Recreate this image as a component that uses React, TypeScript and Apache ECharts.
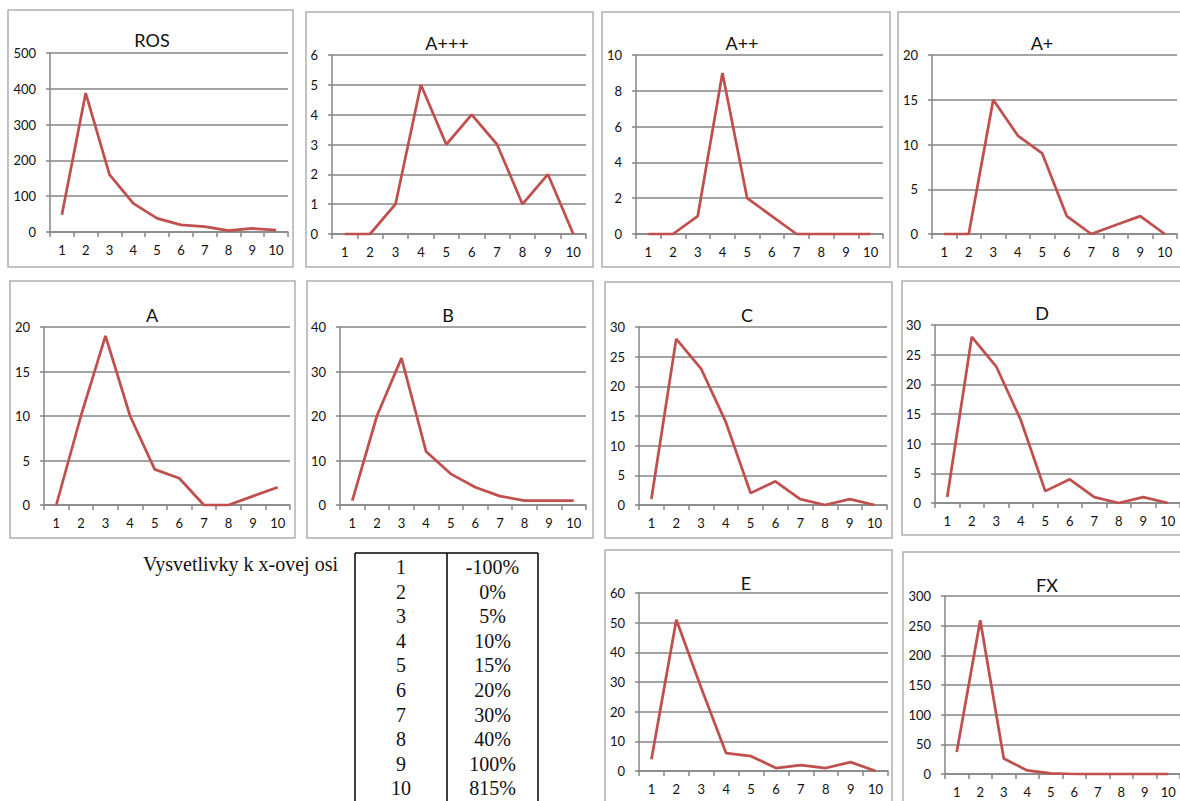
import React, { useEffect, useRef } from "react";
import * as echarts from "echarts";

const categories = ["1", "2", "3", "4", "5", "6", "7", "8", "9", "10"];

const panelNames = ["ROS", "A+++", "A++", "A+", "A", "B", "C", "D", "E", "FX"];
const rosValues = [48, 388, 160, 80, 38, 20, 15, 4, 10, 5];
const aaaValues = [0, 0, 1, 5, 3, 4, 3, 1, 2, 0];
const aaValues = [0, 0, 1, 9, 2, 1, 0, 0, 0, 0];
const apValues = [0, 0, 15, 11, 9, 2, 0, 1, 2, 0];
const aValues = [0, 10, 19, 10, 4, 3, 0, 0, 1, 2];
const bValues = [1, 20, 33, 12, 7, 4, 2, 1, 1, 1];
const cValues = [1, 28, 23, 14, 2, 4, 1, 0, 1, 0];
const dValues = [1, 28, 23, 14, 2, 4, 1, 0, 1, 0];
const eValues = [4, 51, 28, 6, 5, 1, 2, 1, 3, 0];
const fxValues = [37, 259, 26, 6, 1, 0, 0, 0, 0, 0];

const yMax = [500, 6, 10, 20, 20, 40, 30, 30, 60, 300];
const yStep = [100, 1, 2, 5, 5, 10, 5, 5, 10, 50];

const legendTitle = "Vysvetlivky k x-ovej osi";
const legendKeys = categories;
const legendPct = ["-100%", "0%", "5%", "10%", "15%", "20%", "30%", "40%", "100%", "815%"];

const allValues = [rosValues, aaaValues, aaValues, apValues, aValues, bValues, cValues, dValues, eValues, fxValues];

// layout: box [x,y,w,h], grid [left, top, width, height], title center [x,y]
const layout = [
  { box: [8, 10, 285, 257], grid: [50, 53, 238, 179], title: [152, 40] },
  { box: [306, 12, 287, 255], grid: [332, 55, 254, 179], title: [447, 43] },
  { box: [602, 12, 288, 255], grid: [636, 55, 247, 179], title: [742, 43] },
  { box: [898, 12, 300, 255], grid: [932, 55, 245, 179], title: [1042, 43] },
  { box: [10, 281, 285, 257], grid: [44, 327, 246, 178], title: [152, 315] },
  { box: [307, 281, 286, 257], grid: [340, 327, 246, 178], title: [448, 315] },
  { box: [605, 282, 287, 256], grid: [639, 327, 248, 178], title: [747, 315] },
  { box: [902, 281, 300, 254], grid: [935, 325, 245, 178], title: [1042, 313] },
  { box: [605, 550, 287, 260], grid: [639, 593, 249, 178], title: [746, 583] },
  { box: [903, 552, 300, 260], grid: [945, 596, 240, 178], title: [1047, 585] },
];

const GRID_COLOR = "#868686";
const LINE_COLOR = "#C0504D";
const TEXT_COLOR = "#111111";
const FONT = "Lato";
const SERIF = "Liberation Serif";

export default function App() {
  const ref = useRef<HTMLDivElement>(null);

  useEffect(() => {
    if (!ref.current) return;
    const chart = echarts.init(ref.current, null, { renderer: "svg" });

    const boxes = layout.map((l) => ({
      type: "rect",
      shape: { x: l.box[0], y: l.box[1], width: l.box[2], height: l.box[3] },
      style: { fill: "none", stroke: "#b0b0b0", lineWidth: 1.5 },
      silent: true,
    }));

    const tX = [355, 447, 538];
    const tTop = 553;
    const rowY0 = 567;
    const rowH = 24.6;
    const tableLines: any[] = tX.map((x) => ({
      type: "line",
      shape: { x1: x, y1: tTop, x2: x, y2: 810 },
      style: { stroke: "#000", lineWidth: 1.5 },
      silent: true,
    }));
    tableLines.push({
      type: "line",
      shape: { x1: tX[0], y1: tTop, x2: tX[2], y2: tTop },
      style: { stroke: "#000", lineWidth: 1.5 },
      silent: true,
    });
    const tableTexts: any[] = [];
    legendKeys.forEach((k, i) => {
      tableTexts.push({
        type: "text",
        x: (tX[0] + tX[1]) / 2,
        y: rowY0 + i * rowH,
        style: { text: k, font: `20px "${SERIF}"`, fill: TEXT_COLOR, align: "center", verticalAlign: "middle" },
        silent: true,
      });
      tableTexts.push({
        type: "text",
        x: (tX[1] + tX[2]) / 2,
        y: rowY0 + i * rowH,
        style: { text: legendPct[i], font: `20px "${SERIF}"`, fill: TEXT_COLOR, align: "center", verticalAlign: "middle" },
        silent: true,
      });
    });
    tableTexts.push({
      type: "text",
      x: 143,
      y: 564,
      style: { text: legendTitle, font: `20px "${SERIF}"`, fill: TEXT_COLOR, align: "left", verticalAlign: "middle" },
      silent: true,
    });

    const option: any = {
      animation: false,
      backgroundColor: "#ffffff",
      title: layout.map((l, i) => ({
        text: panelNames[i],
        left: l.title[0],
        top: l.title[1] - 10,
        textAlign: "center",
        padding: 0,
        textStyle: { fontFamily: FONT, fontSize: 18, fontWeight: "normal", color: "#111", lineHeight: 20 },
      })),
      grid: layout.map((l) => ({ left: l.grid[0], top: l.grid[1], width: l.grid[2], height: l.grid[3], containLabel: false })),
      xAxis: layout.map((_, i) => ({
        type: "category",
        gridIndex: i,
        data: categories,
        boundaryGap: true,
        axisLine: { show: true, lineStyle: { color: GRID_COLOR, width: 1.5 } },
        axisTick: { show: true, length: 5, lineStyle: { color: GRID_COLOR, width: 1.5 } },
        axisLabel: { color: TEXT_COLOR, fontFamily: FONT, fontSize: 13, margin: 11, interval: 0 },
        splitLine: { show: false },
      })),
      yAxis: layout.map((_, i) => ({
        type: "value",
        gridIndex: i,
        min: 0,
        max: yMax[i],
        interval: yStep[i],
        axisLine: { show: true, lineStyle: { color: GRID_COLOR, width: 1.5 } },
        axisTick: { show: true, length: 4, lineStyle: { color: GRID_COLOR, width: 1.5 } },
        axisLabel: { color: TEXT_COLOR, fontFamily: FONT, fontSize: 13, margin: 14 },
        splitLine: { show: true, lineStyle: { color: GRID_COLOR, width: 1.5 } },
      })),
      series: allValues.map((v, i) => ({
        type: "line",
        name: panelNames[i],
        xAxisIndex: i,
        yAxisIndex: i,
        data: v,
        symbol: "none",
        showSymbol: false,
        smooth: false,
        silent: true,
        lineStyle: { color: LINE_COLOR, width: 2.75 },
      })),
      graphic: [...boxes, ...tableLines, ...tableTexts],
    };

    chart.setOption(option);
    return () => chart.dispose();
  }, []);

  return (
    <div
      ref={ref}
      style={{ position: "absolute", left: 0, top: 0, width: 1180, height: 801, background: "#fff" }}
    />
  );
}
